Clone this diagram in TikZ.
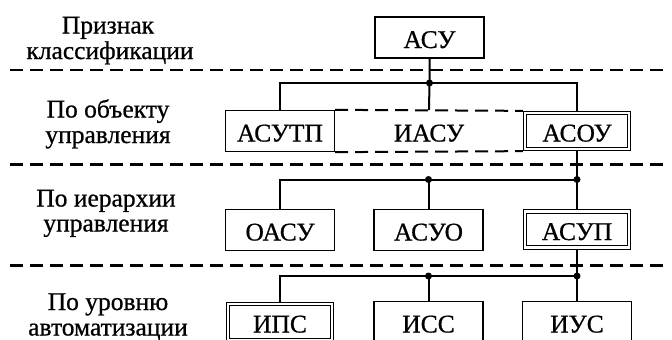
\documentclass[tikz,border=0pt]{standalone}
\usepackage{fontspec}
\setmainfont{Liberation Serif}[FakeBold=0.7]
\newcommand\labfont{\fontsize{25.5}{25.5}\selectfont}
\begin{document}
\begin{tikzpicture}[x=1pt,y=-1pt,
  box/.style={draw, line width=1.3pt, minimum width=109pt, minimum height=41pt, inner sep=0pt, text height=21pt, text depth=0pt, font=\labfont},
  dbox/.style={draw, line width=1pt, double, double distance=2.3pt, minimum width=104pt, minimum height=36pt, inner sep=0pt, outer sep=2.15pt, text height=21pt, text depth=0pt, font=\labfont},
  sepline/.style={line width=2.3pt, dash pattern=on 13pt off 7pt},
  wire/.style={line width=2pt},
  jdot/.style={circle, fill, inner sep=0pt, minimum size=7pt},
  lbl/.style={font=\labfont, anchor=base, inner sep=0pt}
]
\useasboundingbox (0,0) rectangle (672,340);
\clip (0,0) rectangle (672,340);

% separators
\coordinate (s1a) at (10,70);    \coordinate (s1b) at (669,70);
\coordinate (s2a) at (10,164.5); \coordinate (s2b) at (669,164.5);
\coordinate (s3a) at (10,265.5); \coordinate (s3b) at (669,265.5);
\draw[sepline] (s1a) -- (s1b);
\draw[sepline] (s2a) -- (s2b);
\draw[sepline] (s3a) -- (s3b);

% left labels
\node[lbl] (t1a) at (108,33.5) {Признак};
\node[lbl] (t1b) at (110,59) {классификации};
\node[lbl] (t2a) at (108,117.5) {По объекту};
\node[lbl] (t2b) at (108,143) {управления};
\node[lbl] (t3a) at (106,206.5) {По иерархии};
\node[lbl] (t3b) at (106,231.5) {управления};
\node[lbl] (t4a) at (108,310) {По уровню};
\node[lbl] (t4b) at (108,335.5) {автоматизации};

% boxes
\node[box] (asu) at (429.5,37.5) {АСУ};
\node[box] (asutp) at (280,131) {АСУТП};
\node[box, draw=none, minimum width=188pt] (iasu) at (429,131) {ИАСУ};
\node[dbox] (asou) at (577,131) {АСОУ};
\node[box] (oasu) at (280,230) {ОАСУ};
\node[box] (asuo) at (428.5,230) {АСУО};
\node[dbox] (asup) at (577,229.5) {АСУП};
\node[dbox] (ips) at (280,322) {ИПС};
\node[box] (iss) at (428.5,322) {ИСС};
\node[box] (ius) at (577,322) {ИУС};

% dashed frame of ИАСУ
\draw[sepline, line width=2pt] (asutp.north east) -- (asou.north west);
\draw[sepline, line width=2pt] (asutp.south east) -- (asou.south west);

% level 1 bus
\coordinate (b1) at (429.5,83);
\draw[wire] (asu.south) -- (b1) -- (iasu.north);
\draw[wire] (asutp.north) |- (b1) -| (asou.north);
\node[jdot] (d1) at (b1) {};

% level 2 bus
\coordinate (b2) at (577,179.5);
\coordinate (b2m) at (428.5,179.5);
\draw[wire] (asou.south) -- (b2) -- (asup.north);
\draw[wire] (oasu.north) |- (b2);
\draw[wire] (b2m) -- (asuo.north);
\node[jdot] (d2m) at (b2m) {};
\node[jdot] (d2) at (b2) {};

% level 3 bus
\coordinate (b3) at (577,276);
\coordinate (b3m) at (428.5,276);
\draw[wire] (asup.south) -- (b3) -- (ius.north);
\draw[wire] (ips.north) |- (b3);
\draw[wire] (b3m) -- (iss.north);
\node[jdot] (d3m) at (b3m) {};
\node[jdot] (d3) at (b3) {};
\end{tikzpicture}
\end{document}
